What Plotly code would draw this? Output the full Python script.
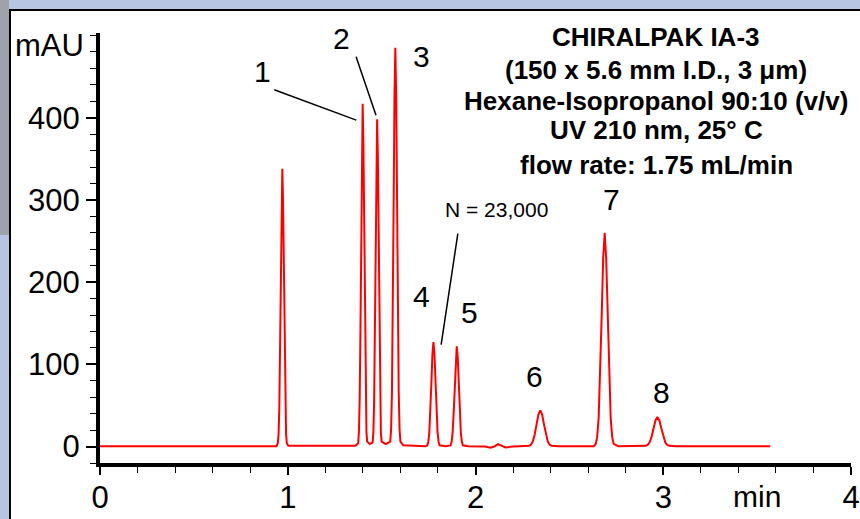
import plotly.graph_objects as go

# Chromatogram trace: retention time (min) and detector response (mAU)
time_min = [
    0.000, 0.940, 0.947, 0.951, 0.955, 0.959, 0.963, 0.967, 0.971, 0.975, 0.979, 0.983, 0.987, 0.991, 0.995, 1.003,
    1.360, 1.375, 1.379, 1.383, 1.387, 1.391, 1.395, 1.399, 1.403, 1.407, 1.411, 1.415, 1.419, 1.423, 1.437,
    1.452, 1.456, 1.460, 1.464, 1.468, 1.472, 1.476, 1.480, 1.484, 1.488, 1.492, 1.496, 1.500, 1.522,
    1.546, 1.5505, 1.555, 1.5595, 1.564, 1.5685, 1.573, 1.5775, 1.582, 1.5865, 1.591, 1.5955, 1.600, 1.615, 1.700,
    1.735, 1.743, 1.7485, 1.754, 1.7595, 1.765, 1.7705, 1.776, 1.7815, 1.787, 1.7925, 1.798, 1.8035, 1.809, 1.838,
    1.867, 1.8725, 1.878, 1.8835, 1.889, 1.8945, 1.900, 1.9055, 1.911, 1.9165, 1.922, 1.9275, 1.933, 1.960,
    2.050, 2.080, 2.100, 2.120, 2.140, 2.160, 2.200,
    2.260, 2.285, 2.295, 2.305, 2.315, 2.325, 2.335, 2.345, 2.355, 2.365, 2.375, 2.385, 2.395, 2.405, 2.440, 2.600,
    2.630, 2.640, 2.648, 2.656, 2.664, 2.672, 2.680, 2.688, 2.696, 2.704, 2.712, 2.720, 2.728, 2.736, 2.760,
    2.880, 2.906, 2.9165, 2.927, 2.9375, 2.948, 2.9585, 2.969, 2.9795, 2.990, 3.0005, 3.011, 3.0215, 3.032, 3.070,
    3.570,
]
absorbance_mau = [
    0.5, 0.5, 4, 15, 46, 110, 205, 298, 338, 298, 205, 110, 46, 15, 4, 1,
    1, 4, 18, 56, 136, 253, 368, 417, 368, 253, 136, 56, 18, 6, 3,
    5, 17, 54, 129, 242, 351, 398, 351, 242, 129, 54, 17, 6, 3,
    6, 21, 66, 158, 294, 428, 485, 428, 294, 158, 66, 21, 6, 1.5, 0.5,
    0.5, 1.4, 5.6, 17, 41, 77, 112, 127, 112, 77, 41, 17, 5.6, 1.5, 0.5,
    1.4, 5.4, 16.5, 40, 74, 108, 122, 108, 74, 40, 16.5, 5.4, 1.5, 0.5,
    0, -1.5, 0, 3, 0.5, -1, 0,
    0.3, 0.9, 2.3, 6, 14.3, 26.7, 38.8, 44, 38.8, 26.7, 14.3, 6, 2.3, 0.9, 0.3, 0.5,
    0.5, 3.2, 11.4, 35, 84.5, 158, 229, 260, 229, 158, 84.5, 35, 11.4, 3.2, 0.5,
    0.3, 0.9, 2, 4.9, 11.7, 21.9, 31.8, 36, 31.8, 21.9, 11.7, 4.9, 2, 0.9, 0.4,
    0.5,
]

# Peak labels and where they sit (min, mAU)
peak_labels = ["1", "2", "3", "4", "5", "6", "7", "8"]
label_x = [0.864, 1.285, 1.712, 1.712, 1.968, 2.315, 2.725, 2.992]
label_y = [456, 496, 475, 182, 163, 85, 301, 66]

# Leader lines (x0, y0, x1, y1)
leaders = [
    (0.928, 434, 1.365, 397),
    (1.364, 474, 1.470, 403),
    (1.906, 259, 1.817, 124),
]

conditions = [
    "CHIRALPAK IA-3",
    "(150 x 5.6 mm I.D., 3 \u03bcm)",
    "Hexane-Isopropanol 90:10 (v/v)",
    "UV 210 nm, 25\u00b0 C",
    "flow rate: 1.75 mL/min",
]
conditions_y = [498, 458, 420, 385, 342]

x_ticks = [0, 1, 2, 3, 4]
y_ticks = [0, 100, 200, 300, 400]

FONT = "Liberation Sans, Arial, sans-serif"
W, H = 860, 519
L, R, T, B = 100, 9, 33, 56

fig = go.Figure()
fig.add_trace(go.Scatter(
    x=time_min, y=absorbance_mau, mode="lines",
    line=dict(color="#ff0000", width=2), hoverinfo="skip", showlegend=False,
))


def px_x(p):
    return (p - L) / (W - L - R)


def px_y(p):
    return (H - B - p) / (H - T - B)


ann = []
for txt, xx, yy in zip(peak_labels, label_x, label_y):
    ann.append(dict(x=xx, y=yy, xref="x", yref="y", text=txt, showarrow=False,
                    font=dict(family=FONT, size=30, color="black")))
ann.append(dict(x=2.112, y=288, xref="x", yref="y", text="N = 23,000", showarrow=False,
                font=dict(family=FONT, size=21, color="black")))
for txt, yy in zip(conditions, conditions_y):
    ann.append(dict(x=2.963, y=yy, xref="x", yref="y", text="<b>" + txt + "</b>", showarrow=False,
                    font=dict(family=FONT, size=26, color="black")))
ann.append(dict(x=px_x(50), y=px_y(46), xref="paper", yref="paper", text="mAU", showarrow=False,
                xanchor="center", yanchor="middle",
                font=dict(family=FONT, size=31, color="black")))
ann.append(dict(x=px_x(757), y=px_y(496), xref="paper", yref="paper", text="min", showarrow=False,
                xanchor="center", yanchor="middle",
                font=dict(family=FONT, size=30, color="black")))

shapes = []
for x0, y0, x1, y1 in leaders:
    shapes.append(dict(type="line", xref="x", yref="y", x0=x0, y0=y0, x1=x1, y1=y1,
                       line=dict(color="black", width=1.5)))

# window frame around the chart
shapes += [
    dict(type="rect", xref="paper", yref="paper", x0=px_x(0), x1=px_x(W), y0=px_y(9), y1=px_y(0),
         fillcolor="#b5c5e2", line=dict(width=0), layer="below"),
    dict(type="rect", xref="paper", yref="paper", x0=px_x(0), x1=px_x(9), y0=px_y(235), y1=px_y(0),
         fillcolor="#9ea2ab", line=dict(width=0), layer="below"),
    dict(type="rect", xref="paper", yref="paper", x0=px_x(0), x1=px_x(9), y0=px_y(H), y1=px_y(235),
         fillcolor="#b5c5e2", line=dict(width=0), layer="below"),
    dict(type="line", xref="paper", yref="paper", x0=px_x(9), x1=px_x(W), y0=px_y(10), y1=px_y(10),
         line=dict(color="black", width=2)),
    dict(type="line", xref="paper", yref="paper", x0=px_x(10), x1=px_x(10), y0=px_y(9), y1=px_y(H),
         line=dict(color="black", width=2)),
]

fig.update_layout(
    width=W, height=H,
    margin=dict(l=L, r=R, t=T, b=B, autoexpand=False),
    paper_bgcolor="white", plot_bgcolor="white",
    font=dict(family=FONT, color="black"),
    annotations=ann, shapes=shapes,
    xaxis=dict(
        range=[0, 4], tickvals=x_ticks, showgrid=False, zeroline=False, automargin=False,
        showline=True, linecolor="black", linewidth=4,
        ticks="outside", ticklen=8, tickwidth=1.5, tickcolor="black",
        ticklabelstandoff=-4,
        tickfont=dict(family=FONT, size=31, color="black"),
        minor=dict(dtick=0.2, ticks="outside", ticklen=6, tickwidth=1.2, tickcolor="black"),
    ),
    yaxis=dict(
        range=[-20, 503], tickvals=y_ticks, showgrid=False, zeroline=False, automargin=False,
        showline=True, linecolor="black", linewidth=4,
        ticks="outside", ticklen=10, tickwidth=1.5, tickcolor="black",
        tickfont=dict(family=FONT, size=31, color="black"),
        minor=dict(dtick=20, ticks="outside", ticklen=6, tickwidth=1.2, tickcolor="black"),
    ),
)

fig.write_html("out.html", config={"displayModeBar": False})
